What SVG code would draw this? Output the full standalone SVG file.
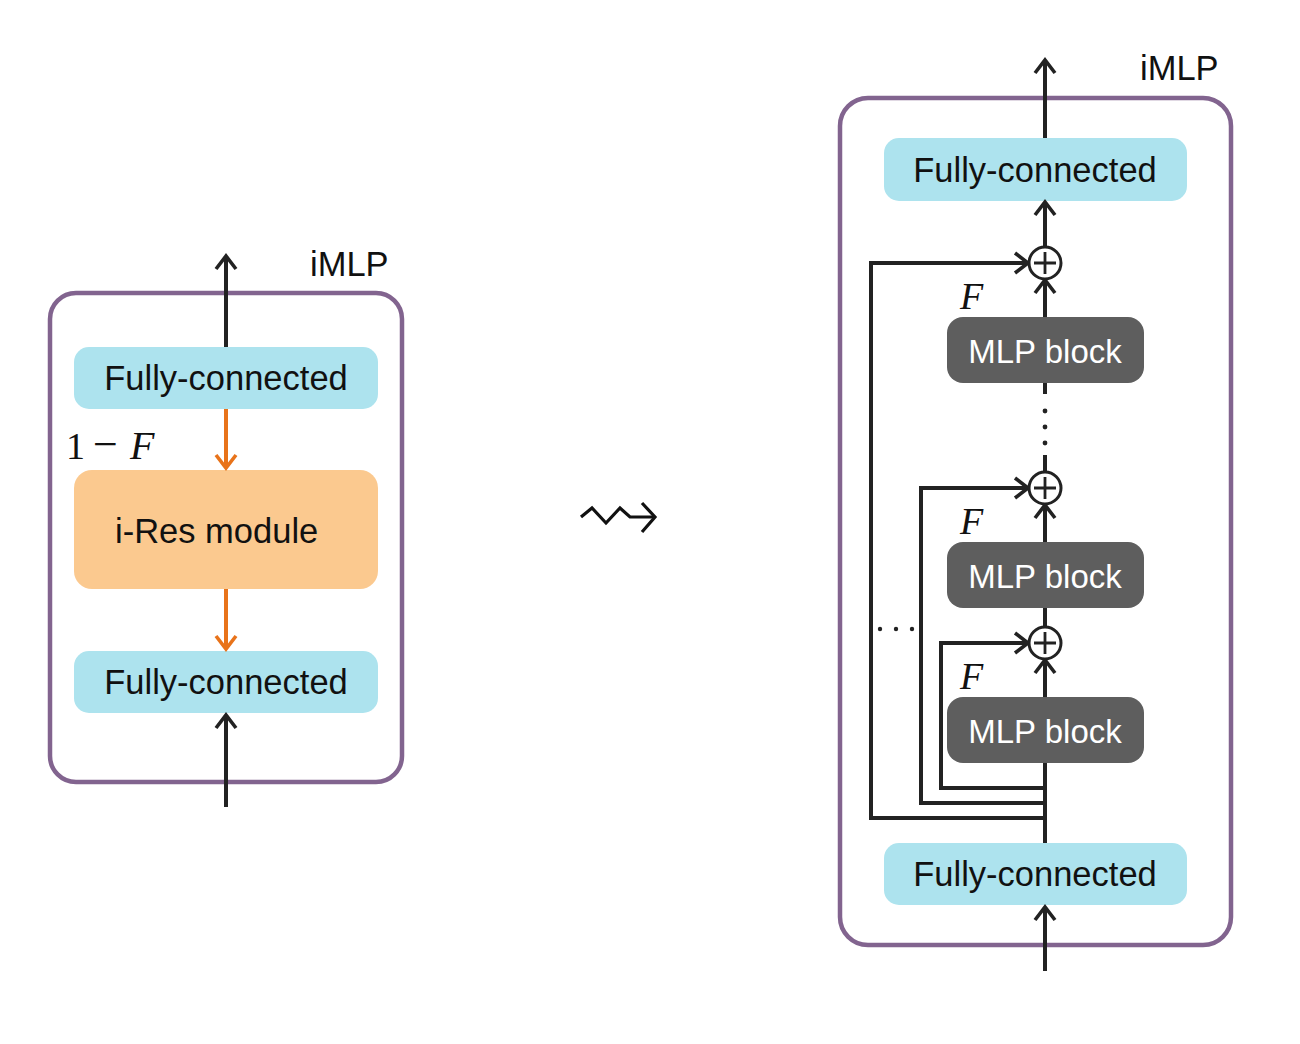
<svg xmlns="http://www.w3.org/2000/svg" width="1300" height="1044" viewBox="0 0 1300 1044">
<defs>
<style>
.frame{fill:#fff;stroke:#82648f;stroke-width:4.5}
.fc{fill:#ade3ee}
.ires{fill:#fbc98f}
.mlp{fill:#5e5e5e}
.lbl{font-family:"Liberation Sans",Arial,sans-serif;font-size:34.5px;fill:#111}
.wlbl{font-family:"Liberation Sans",Arial,sans-serif;font-size:33px;fill:#fff}
.math{font-family:"Liberation Serif","Times New Roman",serif;font-size:38px;fill:#111}
.ln{fill:none;stroke:#222;stroke-width:4}
.or{fill:none;stroke:#e8731a;stroke-width:4}
.arr{marker-end:url(#ah)}
.oarr{marker-end:url(#oh)}
.sum{fill:#fff;stroke:#222;stroke-width:3}
</style>
<marker id="ah" markerUnits="userSpaceOnUse" markerWidth="18" markerHeight="24" viewBox="0 0 18 24" refX="15" refY="12" orient="auto">
<path d="M2,2 L15,12 L2,22" fill="none" stroke="#222" stroke-width="3.6"/>
</marker>
<marker id="oh" markerUnits="userSpaceOnUse" markerWidth="18" markerHeight="24" viewBox="0 0 18 24" refX="15" refY="12" orient="auto">
<path d="M2,2 L15,12 L2,22" fill="none" stroke="#e8731a" stroke-width="3.6"/>
</marker>
</defs>

<!-- Left panel -->
<g id="left-imlp">
<rect class="frame" x="50" y="293" width="352" height="489" rx="26"/>
<text class="lbl" x="310" y="276">iMLP</text>
</g>
<g id="left-fc-top">
<rect class="fc" x="74" y="347" width="304" height="62" rx="15"/>
<text class="lbl" x="226" y="390" text-anchor="middle">Fully-connected</text>
</g>
<g id="left-ires">
<rect class="ires" x="74" y="470" width="304" height="119" rx="18"/>
<text class="lbl" x="115" y="543">i-Res module</text>
</g>
<g id="left-fc-bottom">
<rect class="fc" x="74" y="651" width="304" height="62" rx="15"/>
<text class="lbl" x="226" y="694" text-anchor="middle">Fully-connected</text>
</g>
<g id="left-label">
<text class="math" y="459"><tspan x="66">1</tspan><tspan x="93" font-size="44">−</tspan><tspan x="130" font-style="italic" font-size="40">F</tspan></text>
</g>

<!-- Squiggle arrow -->
<g id="leadsto">
<path d="M581,517 L592,508 L606,523 L620,508 L630,517 L654,517" fill="none" stroke="#111" stroke-width="3.2"/>
<path d="M642,503 L655,517 L642,532" fill="none" stroke="#111" stroke-width="3.2"/>
</g>

<!-- Right panel -->
<g id="right-imlp">
<rect class="frame" x="840" y="98" width="391" height="847" rx="28"/>
<text class="lbl" x="1140" y="80">iMLP</text>
</g>
<g id="right-fc-top">
<rect class="fc" x="884" y="138" width="303" height="63" rx="15"/>
<text class="lbl" x="1035" y="182" text-anchor="middle">Fully-connected</text>
</g>
<g id="mlp1">
<rect class="mlp" x="947" y="317" width="197" height="66" rx="16"/>
<text class="wlbl" x="1045" y="363" text-anchor="middle">MLP block</text>
</g>
<g id="mlp2">
<rect class="mlp" x="947" y="542" width="197" height="66" rx="16"/>
<text class="wlbl" x="1045" y="588" text-anchor="middle">MLP block</text>
</g>
<g id="mlp3">
<rect class="mlp" x="947" y="697" width="197" height="66" rx="16"/>
<text class="wlbl" x="1045" y="743" text-anchor="middle">MLP block</text>
</g>
<g id="right-fc-bottom">
<rect class="fc" x="884" y="843" width="303" height="62" rx="15"/>
<text class="lbl" x="1035" y="886" text-anchor="middle">Fully-connected</text>
</g>
<g id="f-labels">
<text class="math" x="960" y="309" font-style="italic" font-size="40">F</text>
<text class="math" x="960" y="534" font-style="italic" font-size="40">F</text>
<text class="math" x="960" y="689" font-style="italic" font-size="40">F</text>
</g>

<!-- Connectors -->
<g id="connectors">
<!-- left -->
<line class="ln arr" x1="226" y1="347" x2="226" y2="256"/>
<line class="or oarr" x1="226" y1="409" x2="226" y2="468"/>
<line class="or oarr" x1="226" y1="589" x2="226" y2="649"/>
<line class="ln arr" x1="226" y1="807" x2="226" y2="715"/>
<!-- right main chain -->
<line class="ln arr" x1="1045" y1="138" x2="1045" y2="60"/>
<line class="ln arr" x1="1045" y1="247" x2="1045" y2="202"/>
<line class="ln arr" x1="1045" y1="317" x2="1045" y2="280"/>
<line class="ln" x1="1045" y1="383" x2="1045" y2="394"/>
<circle cx="1045" cy="411" r="2.4" fill="#222"/>
<circle cx="1045" cy="427" r="2.4" fill="#222"/>
<circle cx="1045" cy="443" r="2.4" fill="#222"/>
<line class="ln" x1="1045" y1="455" x2="1045" y2="472"/>
<line class="ln arr" x1="1045" y1="542" x2="1045" y2="505"/>
<line class="ln" x1="1045" y1="608" x2="1045" y2="627"/>
<line class="ln arr" x1="1045" y1="697" x2="1045" y2="660"/>
<line class="ln" x1="1045" y1="843" x2="1045" y2="763"/>
<line class="ln arr" x1="1045" y1="971" x2="1045" y2="907"/>
<!-- skips -->
<path class="ln arr" d="M1045,818 H871 V263 H1028"/>
<path class="ln arr" d="M1045,803 H921 V488 H1028"/>
<path class="ln arr" d="M1045,788 H941 V643 H1028"/>
<!-- ellipsis -->
<circle cx="880" cy="629" r="2.2" fill="#222"/>
<circle cx="896" cy="629" r="2.2" fill="#222"/>
<circle cx="912" cy="629" r="2.2" fill="#222"/>
</g>

<g id="sum1">
<circle class="sum" cx="1045" cy="263" r="16"/>
<path d="M1034,263 H1056 M1045,252 V274" stroke="#222" stroke-width="2.8"/>
</g>
<g id="sum2">
<circle class="sum" cx="1045" cy="488" r="16"/>
<path d="M1034,488 H1056 M1045,477 V499" stroke="#222" stroke-width="2.8"/>
</g>
<g id="sum3">
<circle class="sum" cx="1045" cy="643" r="16"/>
<path d="M1034,643 H1056 M1045,632 V654" stroke="#222" stroke-width="2.8"/>
</g>
</svg>
